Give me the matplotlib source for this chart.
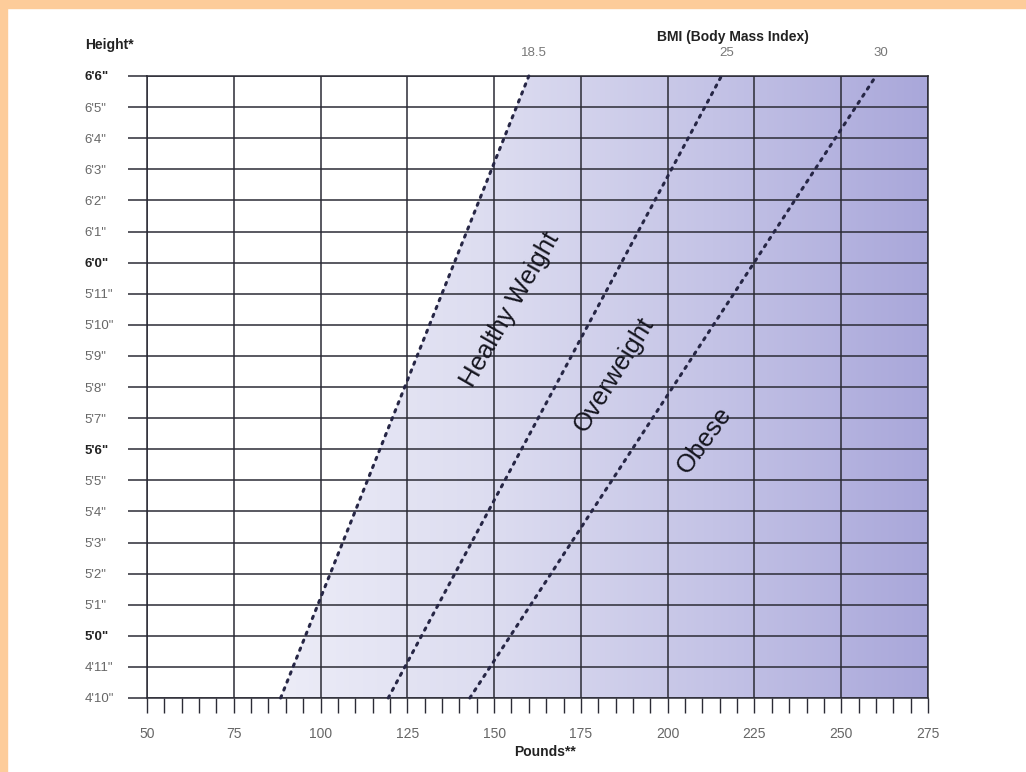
import matplotlib
matplotlib.use("Agg")
import matplotlib.pyplot as plt
from matplotlib.colors import LinearSegmentedColormap
from matplotlib.patches import Polygon, Rectangle
from matplotlib.ticker import MultipleLocator
import numpy as np

plt.rcParams['font.family'] = ['Liberation Sans', 'DejaVu Sans']

# Data
heights_in = list(range(58, 79))            # 4'10" .. 6'6"
height_labels = ['4\'10"', '4\'11"', '5\'0"', '5\'1"', '5\'2"', '5\'3"', '5\'4"',
                 '5\'5"', '5\'6"', '5\'7"', '5\'8"', '5\'9"', '5\'10"', '5\'11"',
                 '6\'0"', '6\'1"', '6\'2"', '6\'3"', '6\'4"', '6\'5"', '6\'6"']
bold_heights = ['5\'0"', '5\'6"', '6\'0"', '6\'6"']
pounds_ticks = [50, 75, 100, 125, 150, 175, 200, 225, 250, 275]

bmi_names = ['18.5', '25', '30']
bmi_lb_bottom = [88.5, 119.5, 143.0]   # pounds at 4'10"
bmi_lb_top = [160.0, 215.5, 260.0]     # pounds at 6'6"

zone_names = ['Healthy Weight', 'Overweight', 'Obese']
zone_x = [154.5, 184.5, 210.5]
zone_y = [70.5, 68.4, 66.3]
zone_rot = [60, 58, 54]

fig = plt.figure(figsize=(10.26, 7.72), dpi=100)
fig.patch.set_facecolor('white')
# orange frame strips
fig.patches.append(Rectangle((0, 0), 7 / 1026, 1, transform=fig.transFigure,
                             color='#fdcc9a', zorder=0))
fig.patches.append(Rectangle((0, 1 - 8 / 772), 1, 8 / 772, transform=fig.transFigure,
                             color='#fdcc9a', zorder=0))

ax = fig.add_axes([147 / 1026, 74 / 772, 781 / 1026, 622 / 772])
xmin, xmax = pounds_ticks[0], pounds_ticks[-1]
ymin, ymax = heights_in[0], heights_in[-1]
ax.set_xlim(xmin, xmax)
ax.set_ylim(ymin, ymax)

# gradient shading to the right of the 18.5 line
cmap = LinearSegmentedColormap.from_list('bmi', ['#ececf7', '#dcdcf0', '#c4c3e6', '#a9a7da'])
grad = np.linspace(0, 1, 256).reshape(1, -1)
img = ax.imshow(grad, extent=[bmi_lb_bottom[0], xmax, ymin, ymax], aspect='auto',
                cmap=cmap, origin='lower', zorder=0)
clip = Polygon([(bmi_lb_bottom[0], ymin), (bmi_lb_top[0], ymax), (xmax, ymax), (xmax, ymin)],
               closed=True, transform=ax.transData, facecolor='none', edgecolor='none')
ax.add_patch(clip)
img.set_clip_path(clip)

# grid
ax.set_xticks(pounds_ticks)
ax.xaxis.set_minor_locator(MultipleLocator(5))
ax.set_yticks(heights_in)
ax.grid(True, which='major', color='#2b2b35', linewidth=1.1, zorder=1)
ax.set_axisbelow(False)
for s in ax.spines.values():
    s.set_color('#2b2b35')
    s.set_linewidth(1.1)

# BMI dotted lines
for name, b, t in zip(bmi_names, bmi_lb_bottom, bmi_lb_top):
    ax.plot([b, t], [ymin, ymax], color='#262645', linewidth=2.2,
            linestyle=(0, (0.8, 2.0)), dash_capstyle='round', zorder=3, clip_on=False)
    ax.text(t + 1.5, ymax + 0.55, name, ha='center', va='bottom', fontsize=9.5,
            color='#777777')

for name, x, y, r in zip(zone_names, zone_x, zone_y, zone_rot):
    ax.text(x, y, name, rotation=r, ha='center', va='center', fontsize=18.5,
            color='#15151f', rotation_mode='anchor', zorder=4)

# ticks
ax.tick_params(axis='x', which='both', direction='out', length=11, width=1.0,
               color='#2b2b35', labelsize=10, labelcolor='#666666', pad=10)
ax.tick_params(axis='y', which='major', direction='out', length=14, width=1.1,
               color='#2b2b35', labelsize=9.5, pad=31)
ax.set_yticklabels(height_labels)
for lab in ax.get_yticklabels():
    lab.set_horizontalalignment('left')
    if lab.get_text() in bold_heights:
        lab.set_fontweight('bold')
        lab.set_color('#222222')
    else:
        lab.set_color('#666666')

fig.text(85 / 1026, 1 - 45 / 772, 'Height*', fontsize=10, fontweight='bold',
         color='#222222', ha='left', va='center')
fig.text(733 / 1026, 1 - 37 / 772, 'BMI (Body Mass Index)', fontsize=10,
         fontweight='bold', color='#222222', ha='center', va='center')
fig.text(545 / 1026, 1 - 752 / 772, 'Pounds**', fontsize=10, fontweight='bold',
         color='#222222', ha='center', va='center')

fig.savefig('out.png', dpi=100)
